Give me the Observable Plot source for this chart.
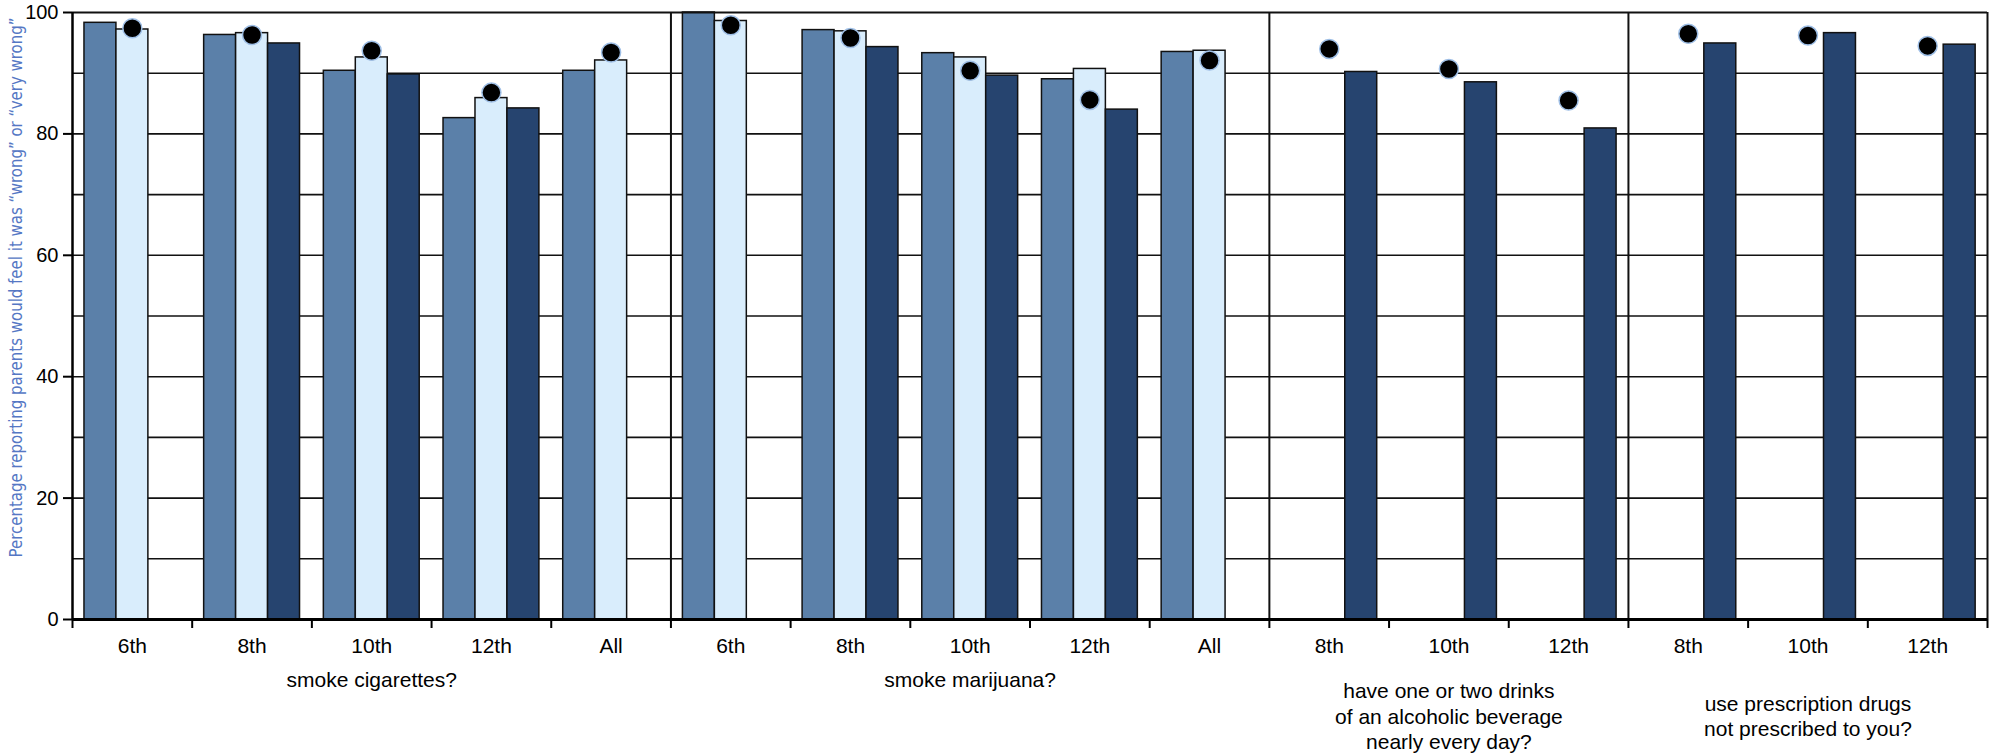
<!DOCTYPE html>
<html><head><meta charset="utf-8">
<script src="https://cdn.jsdelivr.net/npm/d3@7"></script>
<script src="https://cdn.jsdelivr.net/npm/@observablehq/plot@0.6"></script>
<style>body{margin:0;background:#fff;}</style>
</head><body><div id="chart"></div>
<script>
// ---- data ----
const panelTitles = [
  "smoke cigarettes?",
  "smoke marijuana?",
  "have one or two drinks\nof an alcoholic beverage\nnearly every day?",
  "use prescription drugs\nnot prescribed to you?"
];
const gradeLabels = ["6th","8th","10th","12th","All","6th","8th","10th","12th","All","8th","10th","12th","8th","10th","12th"];
const categoryPanel = [0,0,0,0,0,1,1,1,1,1,2,2,2,3,3,3];
const seriesNames = ["series1","series2","series3"];
const series1 = [98.3, 96.3, 90.4, 82.6, 90.4, 100, 97.1, 93.3, 89.0, 93.5, null, null, null, null, null, null];
const series2 = [97.2, 96.6, 92.6, 85.9, 92.1, 98.6, 96.9, 92.6, 90.7, 93.7, null, null, null, null, null, null];
const series3 = [null, 94.9, 89.8, 84.2, null, null, 94.3, 89.6, 84.0, null, 90.2, 88.5, 80.9, 94.9, 96.6, 94.7];
const dotValues = [97.4, 96.3, 93.7, 86.8, 93.4, 97.9, 95.8, 90.4, 85.6, 92.1, 94.0, 90.7, 85.5, 96.5, 96.2, 94.5];
const yTicks = [0, 20, 40, 60, 80, 100];
const yLabel = "Percentage reporting parents would feel it was \u201Cwrong\u201D or \u201Cvery wrong\u201D";

// ---- styles ----
const seriesColors = ["#5b80a9", "#d9edfc", "#26446f"];
const labelBlue = "#5577c4";
const PAD = 0.1, BW = 0.267;

// ---- derived tables ----
const seriesValues = [series1, series2, series3];
const bars = [];
seriesValues.forEach((vals, s) => vals.forEach((v, i) => {
  if (v != null) bars.push({i, s, series: seriesNames[s], value: v});
}));
const dots = dotValues.map((v, i) => ({i, value: v}));
const nCat = gradeLabels.length;
const panels = panelTitles.map((title, p) => {
  const idx = categoryPanel.map((q, i) => q === p ? i : -1).filter(i => i >= 0);
  return {title, start: d3.min(idx), end: d3.max(idx) + 1, lines: title.split("\n").length};
});
const dividers = panels.slice(1).map(p => p.start);

const font = "'Liberation Sans', Arial, sans-serif";
const titleOpts = {x: d => (d.start + d.end) / 2, text: "title", frameAnchor: "bottom",
  lineAnchor: "middle", lineHeight: 1.21, fontSize: 21, fill: "#000"};

const chart = Plot.plot({
  width: 1995,
  height: 755,
  marginLeft: 72,
  marginRight: 8,
  marginTop: 12,
  marginBottom: 136,
  style: {fontFamily: font, fontSize: "20px", color: "#000", background: "#fff"},
  x: {type: "linear", domain: [0, nCat]},
  y: {domain: [0, 100]},
  color: {domain: seriesNames, range: seriesColors},
  marks: [
    Plot.gridY({ticks: d3.range(10, 100, 10), stroke: "#111", strokeOpacity: 1, strokeWidth: 1.6}),
    Plot.ruleX(dividers, {stroke: "#111", strokeWidth: 2}),
    Plot.rectY(bars, {
      x1: d => d.i + PAD + d.s * BW,
      x2: d => d.i + PAD + (d.s + 1) * BW,
      y: "value",
      fill: "series",
      stroke: "#111",
      strokeWidth: 1.5
    }),
    Plot.dot(dots, {x: d => d.i + 0.5, y: "value", r: 9.5, fill: "#000", stroke: "#9fbfe6", strokeWidth: 1.5}),
    Plot.ruleY([100], {stroke: "#111", strokeWidth: 2}),
    Plot.ruleX([nCat], {stroke: "#111", strokeWidth: 2}),
    Plot.ruleX([0], {stroke: "#000", strokeWidth: 2.5}),
    Plot.ruleY([0], {stroke: "#000", strokeWidth: 3}),
    Plot.axisY({ticks: yTicks, tickSize: 9, tickPadding: 5, fontSize: 20, label: null, strokeWidth: 2}),
    Plot.axisX({ticks: d3.range(nCat + 1), tickSize: 9, tickFormat: () => "", label: null, strokeWidth: 2}),
    Plot.axisX({ticks: d3.range(nCat).map(i => i + 0.5), tickSize: 0, tickPadding: 19,
      tickFormat: d => gradeLabels[Math.floor(d)], fontSize: 21, label: null}),
    Plot.text(panels.filter(p => p.lines === 1), {...titleOpts, dy: 59}),
    Plot.text(panels.filter(p => p.lines > 1), {...titleOpts, dy: 96}),
    Plot.text([yLabel], {frameAnchor: "top-left", rotate: -90, dx: -56, dy: 275,
      textAnchor: "middle", lineAnchor: "middle", fill: labelBlue, fontSize: 17,
      className: "ylabel",
      fontFamily: "'Liberation Sans Narrow', 'DejaVu Sans Condensed', sans-serif"})
  ]
});
// condense the rotated axis title to the reference's length
chart.querySelectorAll(".ylabel text").forEach(t => {
  t.setAttribute("textLength", 540);
  t.setAttribute("lengthAdjust", "spacingAndGlyphs");
});
document.getElementById("chart").appendChild(chart);
</script>
</body></html>
